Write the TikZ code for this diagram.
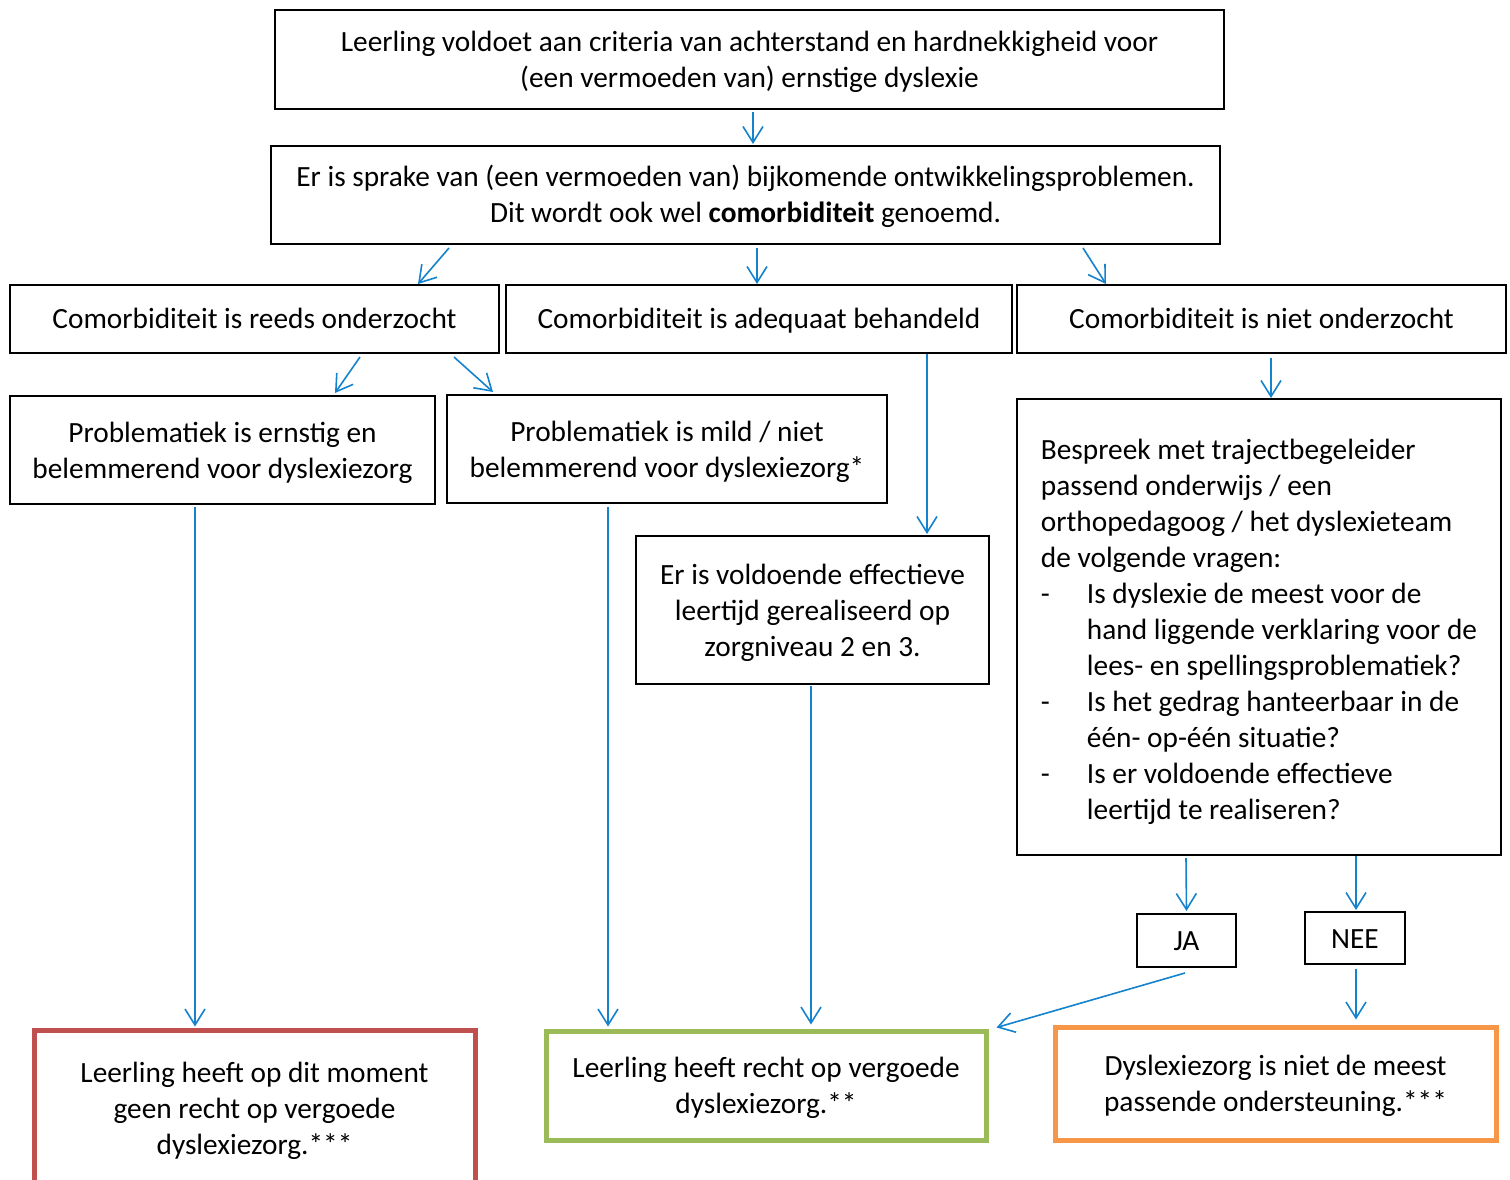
\documentclass[tikz,border=0pt]{standalone}
\usepackage{fontspec}
\setmainfont{Carlito}
\usetikzlibrary{arrows.meta,calc}

\definecolor{pijl}{RGB}{20,130,205}
\definecolor{rood}{RGB}{192,80,77}
\definecolor{groen}{RGB}{155,187,89}
\definecolor{oranje}{RGB}{247,150,70}

\newcommand{\vraag}{\makebox[34.5pt][l]{-}}
\newcommand{\verder}{\hspace*{34.5pt}}
\newcommand{\zs}{\rule[-4pt]{0pt}{23pt}}

\begin{document}
\begin{tikzpicture}[x=0.75pt,y=-0.75pt]

\tikzstyle{box}=[draw, line width=1.5pt, align=center, inner sep=0pt, font=\fontsize{22}{27}\selectfont,
  execute at begin node=\zs]
\tikzstyle{eind}=[box, line width=3.75pt]
\tikzstyle{edge}=[-{Straight Barb[length=12pt,width=15pt]}, line width=1.2pt, pijl]

\useasboundingbox (0,0) rectangle (1510,1180);
\clip (0,0) rectangle (1510,1180);

\node[box, minimum width=949*0.75pt, minimum height=99*0.75pt] (top) at (749.5,59.5)
 {\zs Leerling voldoet aan criteria van achterstand en hardnekkigheid voor\\(een vermoeden van) ernstige dyslexie};
\node[box, minimum width=949*0.75pt, minimum height=98*0.75pt] (comorb) at (745.5,195)
 {\zs Er is sprake van (een vermoeden van) bijkomende ontwikkelingsproblemen.\\Dit wordt ook wel \textbf{comorbiditeit} genoemd.};

\node[box, minimum width=489*0.75pt, minimum height=68*0.75pt] (reeds) at (254.5,319) {Comorbiditeit is reeds onderzocht};
\node[box, minimum width=506*0.75pt, minimum height=68*0.75pt] (adequaat) at (759,319) {Comorbiditeit is adequaat behandeld};
\node[box, minimum width=489*0.75pt, minimum height=68*0.75pt] (nietond) at (1261.5,319) {Comorbiditeit is niet onderzocht};

\node[box, minimum width=425*0.75pt, minimum height=108*0.75pt] (ernstig) at (222.5,450)
 {\zs Problematiek is ernstig en\\belemmerend voor dyslexiezorg};
\node[box, minimum width=440*0.75pt, minimum height=108*0.75pt] (mild) at (667,449)
 {\zs Problematiek is mild / niet\\belemmerend voor dyslexiezorg*};
\node[box, minimum width=353*0.75pt, minimum height=148*0.75pt] (leertijd) at (812.5,610)
 {\zs Er is voldoende effectieve\\leertijd gerealiseerd op\\zorgniveau 2 en 3.};

\node[box, align=left, minimum width=484*0.75pt, minimum height=456*0.75pt] (bespreek) at (1259,627)
 {\rule{0pt}{23pt}Bespreek met trajectbegeleider\\
  passend onderwijs / een\\
  orthopedagoog / het dyslexieteam\\
  de volgende vragen:\\
  \vraag Is dyslexie de meest voor de\\
  \verder hand liggende verklaring voor de\\
  \verder lees- en spellingsproblematiek?\\
  \vraag Is het gedrag hanteerbaar in de\\
  \verder één- op-één situatie?\\
  \vraag Is er voldoende effectieve\\
  \verder leertijd te realiseren?};

\node[box, minimum width=99*0.75pt, minimum height=53*0.75pt] (ja) at (1186.5,940.5) {JA};
\node[box, minimum width=100*0.75pt, minimum height=52*0.75pt] (nee) at (1355,938) {NEE};

\node[eind, draw=rood, minimum width=441*0.75pt, minimum height=156*0.75pt] (geenrecht) at (254.5,1108)
 {\zs Leerling heeft op dit moment\\geen recht op vergoede\\dyslexiezorg.***};
\node[eind, draw=groen, minimum width=440*0.75pt, minimum height=109*0.75pt] (recht) at (766,1085.5)
 {\zs Leerling heeft recht op vergoede\\dyslexiezorg.**};
\node[eind, draw=oranje, minimum width=441*0.75pt, minimum height=113*0.75pt] (nietpassend) at (1275.5,1083.5)
 {\zs Dyslexiezorg is niet de meest\\passende ondersteuning.***};

% pijlen
\draw[edge] ($(top.south)+(3.5,2)$) -- ($(comorb.north)+(7.5,-1)$);
\draw[edge] ($(comorb.south)+(-296.5,3)$) -- ($(reeds.north)+(163.5,0)$);
\draw[edge] ($(comorb.south)+(11.5,3)$) -- ($(adequaat.north)+(-2,0)$);
\draw[edge] ($(comorb.south)+(337.5,3)$) -- ($(nietond.north)+(-155.5,0)$);
\draw[edge] ($(reeds.south)+(105.5,3)$) -- ($(ernstig.north)+(112.5,-2)$);
\draw[edge] ($(reeds.south)+(199.5,3)$) -- ($(mild.north)+(-174,-2)$);
\draw[edge] ($(adequaat.south)+(168,0)$) -- ($(leertijd.north)+(114.5,-1)$);
\draw[edge] ($(nietond.south)+(9.5,4)$) -- ($(bespreek.north)+(12,0)$);
\draw[edge] ($(ernstig.south)+(-27.5,2)$) -- ($(geenrecht.north)+(-59.5,-1)$);
\draw[edge] ($(mild.south)+(-59,3)$) -- ($(recht.north)+(-158,-2)$);
\draw[edge] ($(leertijd.south)+(-1.5,1)$) -- ($(recht.north)+(45,-4)$);
\draw[edge] ($(bespreek.south)+(-73,2)$) -- ($(ja.north)+(0,-2)$);
\draw[edge] ($(bespreek.south)+(97,0)$) -- ($(nee.north)+(1,-1)$);
\draw[edge] ($(ja.south)+(-1.5,5)$) -- ($(recht.north east)+(8,-1)$);
\draw[edge] ($(nee.south)+(1,4)$) -- ($(nietpassend.north)+(80.5,-5)$);

\end{tikzpicture}
\end{document}
